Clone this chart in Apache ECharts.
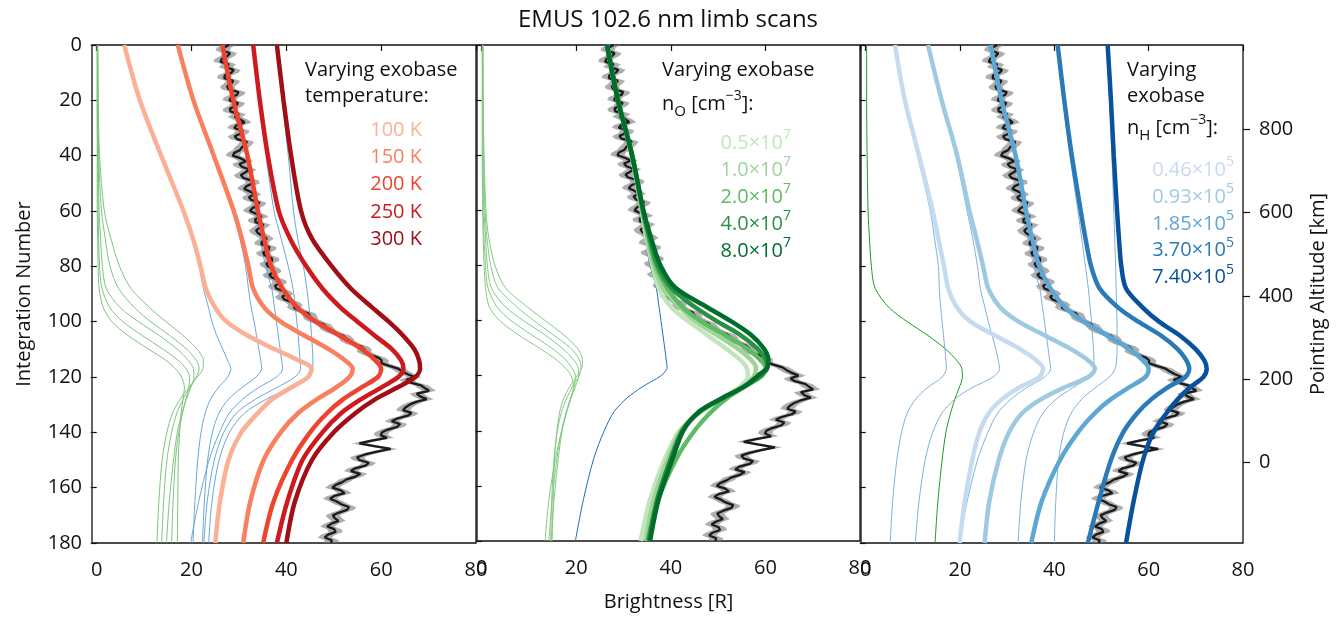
<!DOCTYPE html>
<html>
<head>
<meta charset="utf-8">
<script src="https://cdn.jsdelivr.net/npm/echarts@6/dist/echarts.min.js"></script>
<style>
  html, body { margin: 0; padding: 0; background: #fff; }
  #chart { width: 1340px; height: 617px; }
</style>
</head>
<body>
<div id="chart"></div>
<script>
// integration numbers where the model curves were read
const modelRows = [0, 20, 40, 60, 70, 80, 88, 95, 100, 105, 110, 114, 117, 120, 124, 128, 133, 140, 150, 165, 180];

// panel 1: totals for exobase temperature
const tot100K = [5.8, 9.1, 13.6, 18.3, 20.3, 21.9, 23.0, 25.0, 27.4, 31.8, 37.6, 42.6, 45.3, 44.6, 40.8, 37.0, 34.0, 30.5, 27.8, 26.0, 25.0];
const tot150K = [17.1, 20.4, 24.7, 28.9, 30.6, 32.0, 33.0, 35.4, 38.8, 43.8, 49.0, 52.4, 54.0, 53.3, 50.3, 46.5, 42.5, 38.8, 35.2, 32.4, 30.9];
const tot200K = [26.5, 28.8, 31.8, 34.0, 35.3, 36.8, 39.2, 42.4, 46.2, 51.2, 56.0, 58.8, 60.0, 59.3, 55.6, 52.0, 48.6, 45.0, 41.2, 37.3, 35.1];
const tot250K = [33.0, 34.4, 36.1, 38.4, 40.8, 44.2, 47.6, 51.5, 55.0, 58.6, 62.3, 64.2, 64.7, 63.6, 59.8, 55.8, 51.6, 47.6, 43.4, 40.2, 38.0];
const tot300K = [38.0, 39.4, 41.0, 43.1, 45.4, 49.6, 53.6, 58.2, 61.6, 64.6, 67.0, 68.0, 68.2, 67.2, 63.2, 58.8, 54.6, 50.0, 45.4, 41.8, 40.0];
// oxygen part per temperature
const o100K = [0.1, 0.1, 0.1, 0.1, 0.2, 0.3, 0.5, 1.4, 3.2, 6.6, 11.0, 14.6, 16.6, 17.9, 18.5, 18.2, 17.8, 17.5, 17.2, 17.1, 17.0];
const o150K = [0.1, 0.1, 0.2, 0.3, 0.4, 0.6, 1.1, 2.8, 5.5, 9.6, 14.0, 17.2, 18.8, 19.6, 19.4, 18.8, 18.1, 17.3, 16.6, 16.1, 15.8];
const o200K = [0.2, 0.2, 0.3, 0.5, 0.8, 1.2, 2.0, 5.0, 8.8, 13.2, 17.0, 19.3, 20.4, 20.5, 19.8, 18.9, 18.0, 17.0, 16.2, 15.3, 14.7];
const o250K = [0.2, 0.3, 0.4, 1.0, 1.8, 2.8, 4.6, 8.0, 11.4, 15.4, 19.0, 21.0, 21.6, 21.0, 19.6, 18.2, 16.9, 15.8, 14.8, 14.1, 13.7];
const o300K = [0.2, 0.3, 0.6, 1.6, 3.0, 4.8, 7.2, 11.2, 14.6, 18.2, 21.2, 22.5, 22.4, 21.2, 19.3, 17.6, 16.0, 14.8, 13.8, 13.1, 12.7];
// hydrogen part per temperature
const h100K = [5.7, 9.0, 13.5, 18.2, 20.1, 21.6, 22.5, 23.6, 24.3, 25.3, 26.6, 27.6, 28.3, 27.6, 25.6, 24.0, 22.9, 22.0, 21.3, 20.7, 20.3];
const h150K = [17.0, 20.3, 24.5, 28.6, 30.2, 31.4, 32.0, 32.6, 33.2, 33.7, 34.2, 34.6, 34.8, 33.6, 30.5, 27.8, 25.8, 24.4, 23.4, 22.7, 22.3];
const h200K = [26.3, 28.6, 31.5, 33.5, 34.5, 35.6, 36.9, 37.5, 37.9, 38.3, 38.7, 39.0, 39.2, 37.9, 34.0, 30.8, 28.0, 25.9, 23.7, 21.5, 19.8];
const h250K = [32.8, 34.1, 35.7, 37.4, 38.9, 40.4, 41.4, 41.9, 42.2, 42.5, 42.7, 42.9, 43.0, 41.8, 37.8, 33.5, 29.5, 26.8, 24.8, 23.3, 22.6];
const h300K = [37.8, 39.1, 40.4, 41.5, 42.4, 43.6, 44.3, 44.8, 45.1, 45.3, 45.5, 45.6, 45.6, 44.6, 40.5, 35.8, 31.2, 28.0, 25.8, 24.3, 23.6];

// panel 2: exobase n_O
const totO05 = [26.5, 28.8, 31.7, 33.8, 34.8, 36.1, 37.4, 40.0, 43.5, 47.5, 51.5, 54.5, 56.0, 56.3, 54.6, 51.0, 46.3, 41.8, 38.8, 35.6, 33.6];
const totO1 = [26.5, 28.8, 31.8, 33.9, 35.0, 36.4, 38.2, 41.8, 45.0, 49.5, 54.0, 56.8, 58.0, 57.6, 55.2, 51.3, 46.4, 42.1, 39.4, 36.4, 34.6];
const totO4 = [26.5, 28.8, 31.8, 34.1, 35.5, 37.2, 40.0, 45.0, 49.5, 54.5, 58.2, 60.0, 60.4, 59.0, 55.4, 51.2, 46.1, 42.4, 40.0, 37.1, 35.3];
const totO8 = [26.5, 28.8, 31.8, 34.2, 35.8, 37.8, 40.9, 47.5, 52.5, 56.8, 59.6, 60.6, 60.4, 58.4, 55.5, 51.0, 46.0, 42.6, 40.4, 37.4, 35.6];
const oN05 = [0.1, 0.1, 0.1, 0.2, 0.3, 0.5, 0.8, 1.6, 3.8, 7.6, 12.2, 15.6, 17.6, 18.9, 19.4, 18.9, 18.0, 16.9, 15.6, 14.2, 13.4];
const oN1 = [0.1, 0.2, 0.2, 0.3, 0.5, 0.8, 1.3, 3.2, 6.2, 10.4, 14.8, 17.6, 19.0, 19.8, 19.6, 18.8, 17.9, 16.9, 15.9, 14.9, 14.2];
const oN4 = [0.2, 0.3, 0.4, 0.7, 1.1, 1.9, 3.4, 7.4, 11.0, 15.0, 18.8, 20.6, 21.0, 20.6, 19.2, 18.0, 16.9, 16.0, 15.3, 14.8, 14.6];
const oN8 = [0.3, 0.3, 0.5, 0.9, 1.5, 2.8, 5.0, 9.6, 13.4, 17.2, 20.2, 21.3, 21.2, 20.2, 18.6, 17.4, 16.5, 15.9, 15.4, 15.1, 14.9];

// panel 3: exobase n_H
const totH046 = [6.2, 8.3, 11.3, 14.2, 15.4, 16.6, 17.5, 19.4, 22.2, 27.4, 32.8, 36.2, 37.6, 36.8, 32.3, 28.9, 26.1, 24.1, 22.6, 21.0, 19.9];
const totH093 = [13.2, 16.1, 19.4, 22.0, 23.5, 24.9, 26.0, 28.6, 32.4, 38.0, 43.6, 47.2, 48.6, 47.2, 41.8, 37.2, 33.2, 30.4, 28.2, 26.2, 25.2];
const totH370 = [40.7, 42.1, 43.7, 45.6, 46.6, 47.8, 49.6, 53.6, 57.8, 62.6, 66.2, 68.0, 68.6, 67.8, 63.8, 60.6, 57.6, 54.6, 52.0, 49.4, 47.1];
const totH740 = [51.3, 52.0, 52.6, 53.3, 53.7, 54.2, 55.2, 58.8, 62.2, 66.6, 70.0, 71.8, 72.3, 71.6, 68.6, 66.2, 63.8, 61.0, 58.8, 56.8, 55.2];
const hH046 = [6.0, 8.1, 11.0, 13.7, 14.6, 15.4, 15.6, 15.9, 16.2, 16.5, 16.8, 17.0, 17.1, 16.2, 13.0, 10.6, 8.8, 7.6, 6.6, 5.7, 5.2];
const hH093 = [13.0, 15.9, 19.1, 21.5, 22.7, 23.7, 24.3, 25.3, 26.0, 26.8, 27.6, 28.1, 28.4, 27.0, 22.4, 18.9, 16.2, 14.2, 12.6, 11.3, 10.5];
const hH370 = [40.5, 41.8, 43.3, 45.0, 45.8, 46.6, 47.2, 47.6, 47.9, 48.1, 48.3, 48.4, 48.4, 47.4, 43.8, 40.4, 37.6, 35.6, 34.0, 32.9, 32.3];
const hH740 = [51.1, 51.7, 52.2, 52.6, 52.8, 53.0, 53.1, 53.2, 53.3, 53.3, 53.3, 53.2, 52.9, 51.7, 48.6, 45.8, 43.6, 42.0, 40.9, 40.3, 40.0];

// observed limb scan, one value per integration 0..180 (same in every panel)
const obsBright = [
  27.9, 26.8, 26.6, 28.1, 27.6, 26.4, 26.1, 27.9, 27.2, 28.9,
  28.4, 27.0, 26.9, 28.8, 28.3, 27.5, 27.8, 29.9, 29.6, 28.3,
  28.0, 29.8, 29.4, 28.1, 28.2, 30.0, 29.1, 30.4, 31.2, 29.5,
  29.0, 30.8, 30.4, 29.1, 29.6, 31.7, 31.3, 30.6, 30.2, 29.0,
  28.7, 30.4, 31.5, 30.1, 30.6, 32.2, 31.4, 30.4, 30.9, 32.7,
  32.9, 31.6, 31.1, 32.4, 33.2, 32.1, 32.6, 34.3, 33.9, 32.8,
  32.3, 33.6, 34.8, 33.4, 33.5, 35.2, 34.4, 33.6, 34.0, 35.1,
  35.9, 34.9, 34.7, 36.4, 36.3, 35.1, 35.4, 36.9, 37.0, 35.8,
  36.1, 37.2, 37.5, 36.4, 36.9, 38.4, 38.6, 37.6, 37.9, 39.4,
  40.0, 39.1, 39.6, 41.3, 41.9, 41.6, 42.8, 44.6, 45.0, 45.2,
  46.3, 47.9, 48.4, 48.9, 50.1, 51.9, 52.6, 52.9, 54.0, 55.8,
  56.5, 56.4, 57.6, 59.4, 60.1, 60.0, 61.7, 63.6, 64.5, 65.6,
  67.0, 65.3, 66.2, 68.4, 69.2, 70.1, 67.5, 68.2, 69.6, 67.4,
  66.0, 65.1, 64.6, 66.4, 65.6, 63.4, 62.2, 64.0, 63.4, 61.4,
  60.2, 59.9, 61.2, 58.0, 55.4, 58.6, 62.0, 59.1, 56.6, 54.9,
  55.4, 57.4, 56.7, 54.5, 53.6, 55.6, 54.6, 52.7, 51.8, 50.4,
  49.7, 51.5, 52.3, 50.1, 49.2, 50.6, 51.6, 53.2, 52.8, 51.1,
  49.8, 50.2, 51.0, 49.5, 48.6, 50.1, 50.4, 48.8, 48.1, 49.6,
  49.4];
const obsRows = obsBright.map((b, k) => k); // integration number of each sample
const obsErr = 1.5;

const xTicks = [0, 20, 40, 60, 80];
const altTicks = [0, 200, 400, 600, 800];

const tempLabels = ['100 K', '150 K', '200 K', '250 K', '300 K'];
const nOLabels = ['0.5', '1.0', '2.0', '4.0', '8.0'];
const nHLabels = ['0.46', '0.93', '1.85', '3.70', '7.40'];

const reds = ['#fbb095', '#fa7f5e', '#ee432e', '#cd1a1e', '#a10e15'];
const greens = ['#c2e6bb', '#9ed498', '#5fba64', '#2a9044', '#006d2c'];
const blues = ['#c6dbef', '#9ecae1', '#5ea7d5', '#2a7ab9', '#08519c'];

const FONT = '"Open Sans", "DejaVu Sans", sans-serif';

const panels = [
  { o: [o100K, o150K, o200K, o250K, o300K], oColor: '#7cc47d',
    h: [h100K, h150K, h200K, h250K, h300K], hColor: '#68a7d8',
    tot: [tot100K, tot150K, tot200K, tot250K, tot300K], colors: reds },
  { o: [oN05, oN1, o200K, oN4, oN8], oColor: '#84c982',
    h: [h200K], hColor: '#1f6cb8',
    tot: [totO05, totO1, tot200K, totO4, totO8], colors: greens },
  { o: [o200K], oColor: '#1e9a1e',
    h: [hH046, hH093, h200K, hH370, hH740], hColor: '#7db1dc',
    tot: [totH046, totH093, tot200K, totH370, totH740], colors: blues }
];

const gridLefts = [92, 477, 861];
const gridWidths = [384, 383, 382];

function modelLine(p, vals, color, width) {
  return {
    type: 'line', xAxisIndex: p, yAxisIndex: p, silent: true,
    data: vals.map((v, k) => [v, modelRows[k]]),
    showSymbol: false, smooth: 0.3,
    lineStyle: { color: color, width: width }
  };
}

const series = [];
panels.forEach((pan, p) => {
  pan.o.forEach(v => series.push(modelLine(p, v, pan.oColor, 1)));
  pan.h.forEach(v => series.push(modelLine(p, v, pan.hColor, 1)));
  // uncertainty band of the data
  series.push({
    type: 'custom', xAxisIndex: p, yAxisIndex: p, silent: true,
    data: [[obsBright[0], obsRows[0]]],
    encode: { x: 0, y: 1 },
    renderItem: function (params, api) {
      const pts = [];
      for (let k = 0; k < obsRows.length; k++) pts.push(api.coord([obsBright[k] + obsErr, obsRows[k]]));
      for (let k = obsRows.length - 1; k >= 0; k--) pts.push(api.coord([obsBright[k] - obsErr, obsRows[k]]));
      return { type: 'polygon', shape: { points: pts }, style: { fill: 'rgba(120,120,120,0.6)' } };
    }
  });
  series.push({
    type: 'line', xAxisIndex: p, yAxisIndex: p, silent: true,
    data: obsBright.map((v, k) => [v, obsRows[k]]),
    showSymbol: false,
    lineStyle: { color: '#1b1b1b', width: 2.3 }
  });
  pan.tot.forEach((v, k) => series.push(modelLine(p, v, pan.colors[k], 4.5)));
});

const tickStyle = { show: true, length: 6, lineStyle: { color: '#111', width: 1.2 } };

const grid = gridLefts.map((l, p) => ({
  left: l, width: gridWidths[p], top: 45, height: 498,
  show: true, borderColor: '#111', borderWidth: 1.3, backgroundColor: 'transparent'
}));

const xAxis = gridLefts.map((l, p) => ({
  type: 'value', gridIndex: p, min: -1, max: 80,
  axisLine: { show: false },
  axisTick: Object.assign({ customValues: xTicks }, tickStyle),
  axisLabel: { customValues: xTicks, fontSize: 20, fontFamily: FONT, color: '#111', margin: 17 },
  splitLine: { show: false },
  name: p === 1 ? 'Brightness [R]' : '',
  nameLocation: 'middle', nameGap: 51,
  nameTextStyle: { fontSize: 20, fontFamily: FONT, color: '#111' }
}));

const yAxis = gridLefts.map((l, p) => ({
  type: 'value', gridIndex: p, inverse: true, min: 0, max: 180, interval: 20,
  axisLine: { show: false },
  axisTick: tickStyle,
  axisLabel: { show: p === 0, fontSize: 20, fontFamily: FONT, color: '#111', margin: 10 },
  splitLine: { show: false },
  name: p === 0 ? 'Integration Number' : '',
  nameLocation: 'middle', nameGap: 58, nameRotate: 90,
  nameTextStyle: { fontSize: 20, fontFamily: FONT, color: '#111' }
}));
yAxis.push({
  type: 'value', gridIndex: 2, position: 'right', min: -193, max: 1002,
  axisLine: { show: false },
  axisTick: Object.assign({ customValues: altTicks }, tickStyle, { length: 7 }),
  axisLabel: { customValues: altTicks, fontSize: 20, fontFamily: FONT, color: '#111', margin: 16 },
  splitLine: { show: false },
  name: 'Pointing Altitude [km]', nameLocation: 'middle', nameGap: 65, nameRotate: 90,
  nameTextStyle: { fontSize: 20, fontFamily: FONT, color: '#111' }
});

function txt(x, y, text, color, align, rich, size) {
  const style = {
    text: text, x: x, y: y, fill: color, fontSize: size || 20, fontFamily: FONT,
    textAlign: align, textVerticalAlign: 'middle'
  };
  if (rich) {
    style.lineHeight = 30;
    style.rich = {
      sup: { fontSize: 14, fontFamily: FONT, fill: color, verticalAlign: 'top', lineHeight: 14 },
      sub: { fontSize: 15, fontFamily: FONT, fill: color, verticalAlign: 'bottom', lineHeight: 15 }
    };
  }
  return { type: 'text', silent: true, z: 100, style: style };
}

const graphic = [
  txt(668, 20, 'EMUS 102.6 nm limb scans', '#111', 'center', false, 24),
  txt(305, 70, 'Varying exobase', '#111', 'left'),
  txt(305, 96, 'temperature:', '#111', 'left'),
  txt(662, 70, 'Varying exobase', '#111', 'left'),
  txt(662, 104, 'n{sub|O} [cm{sup|−3}]:', '#111', 'left', true),
  txt(1127, 70, 'Varying', '#111', 'left'),
  txt(1127, 96, 'exobase', '#111', 'left'),
  txt(1127, 128, 'n{sub|H} [cm{sup|−3}]:', '#111', 'left', true)
];
tempLabels.forEach((t, k) => graphic.push(txt(422, 130 + k * 27.3, t, reds[k], 'right')));
nOLabels.forEach((t, k) => graphic.push(txt(791, 143 + k * 27, t + '×10{sup|7}', greens[k], 'right', true)));
nHLabels.forEach((t, k) => graphic.push(txt(1234, 170 + k * 26.9, t + '×10{sup|5}', blues[k], 'right', true)));

const chart = echarts.init(document.getElementById('chart'));
chart.setOption({
  animation: false,
  backgroundColor: '#fff',
  textStyle: { fontFamily: FONT },
  grid: grid,
  xAxis: xAxis,
  yAxis: yAxis,
  series: series,
  graphic: graphic
});
</script>
</body>
</html>
